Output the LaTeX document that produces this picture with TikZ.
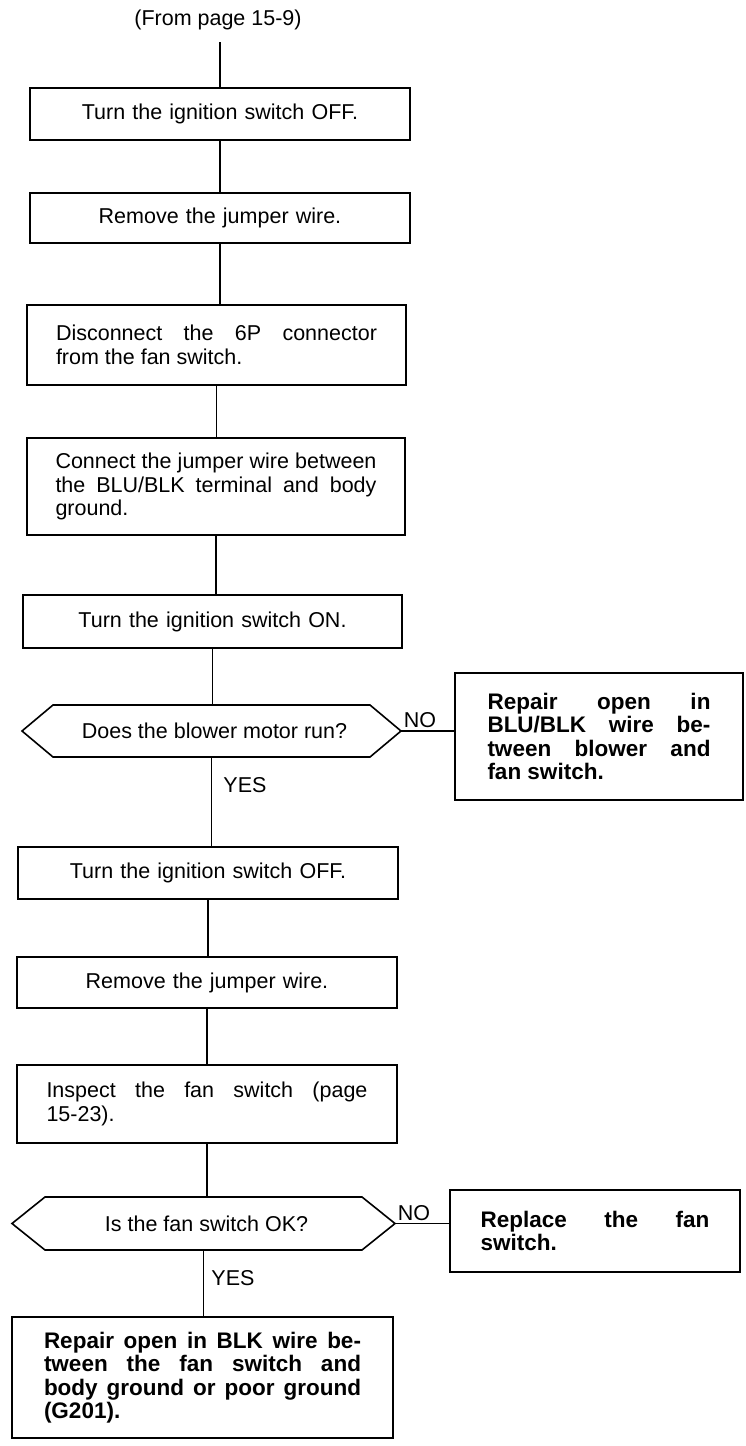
\documentclass[tikz,border=0pt]{standalone}
\usepackage{fontspec}
\setmainfont{Liberation Sans}
\begin{document}
\begin{tikzpicture}[x=1pt,y=-1pt,
  base/.style={font=\fontsize{21.5}{23.5}\selectfont, inner sep=0pt, outer sep=0pt},
  box/.style={base, draw, line width=1.6pt, text width=321pt, align=justify},
  cbox/.style={box, align=center},
  bbox/.style={box, text width=317pt, font=\fontsize{22.5}{23.5}\selectfont\bfseries},
  frame/.style={line width=1.6pt, line join=miter},
  conn/.style={line width=1.4pt},
  lbl/.style={base}
]
\useasboundingbox (0,0) rectangle (745,1446);
\hyphenpenalty=10000 \exhyphenpenalty=10000

\node[lbl] (from) at (218,20) {(From page 15-9)};
\coordinate (top) at (220,42);

\node[cbox, minimum width=380pt, minimum height=52pt] (b1) at (220,114) {Turn the ignition switch OFF.};
\node[cbox, minimum width=380pt, minimum height=50pt] (b2) at (220,218) {Remove the jumper wire.};
\node[box, minimum width=379pt, minimum height=80pt] (b3) at (216.5,345) {Disconnect the 6P connector\linebreak from the fan switch.};
\node[box, minimum width=378pt, minimum height=97pt] (b4) at (216,486.5) {Connect the jumper wire between\linebreak the BLU/BLK terminal and body\linebreak ground.};
\node[cbox, minimum width=379pt, minimum height=53pt] (b5) at (212.5,621.5) {Turn the ignition switch ON.};

\node[base, minimum width=379pt, minimum height=52pt] (h1) at (211.5,731) {\hspace*{6pt}Does the blower motor run?};
\draw[frame] (h1.west) -- ([xshift=31pt]h1.north west) -- ([xshift=-31pt]h1.north east) -- (h1.east) -- ([xshift=-31pt]h1.south east) -- ([xshift=31pt]h1.south west) -- cycle;

\node[bbox, text width=223pt, minimum width=288pt, minimum height=127pt] (r1) at (599,736.5) {Repair open in\linebreak BLU/BLK wire be-\linebreak tween blower and\linebreak fan switch.};

\node[cbox, minimum width=380pt, minimum height=52pt] (b6) at (208,873) {Turn the ignition switch OFF.};
\node[cbox, minimum width=380pt, minimum height=51pt] (b7) at (207,982.5) {Remove the jumper wire.};
\node[box, minimum width=380pt, minimum height=78pt] (b8) at (207,1104) {Inspect the fan switch (page\linebreak 15-23).};

\node[base, minimum width=383pt, minimum height=53pt] (h2) at (203.5,1223.5) {\hspace*{6pt}Is the fan switch OK?};
\draw[frame] (h2.west) -- ([xshift=33pt]h2.north west) -- ([xshift=-33pt]h2.north east) -- (h2.east) -- ([xshift=-33pt]h2.south east) -- ([xshift=33pt]h2.south west) -- cycle;

\node[bbox, text width=229pt, minimum width=290pt, minimum height=82pt] (r2) at (595,1231) {Replace the fan\linebreak switch.};

\node[bbox, minimum width=381pt, minimum height=121pt] (b9) at (202.5,1377.5) {Repair open in BLK wire be-\linebreak tween the fan switch and\linebreak body ground or poor ground\linebreak (G201).};

\node[lbl] (no1) at (420,720) {NO};
\node[lbl] (yes1) at (245,785) {YES};
\node[lbl] (no2) at (414,1213) {NO};
\node[lbl] (yes2) at (233,1278) {YES};

\draw[conn] (top) -- (b1.north);
\draw[conn] (b1.south) -- (b1.south |- b2.north);
\draw[conn] (b2.south) -- (b2.south |- b3.north);
\draw[conn] (b3.south) -- (b3.south |- b4.north);
\draw[conn] (b4.south) -- (b4.south |- b5.north);
\draw[conn] (b5.south) -- (b5.south |- h1.north);
\draw[conn] (h1.east) -- (h1.east -| r1.west);
\draw[conn] (h1.south) -- (h1.south |- b6.north);
\draw[conn] (b6.south) -- (b6.south |- b7.north);
\draw[conn] (b7.south) -- (b7.south |- b8.north);
\draw[conn] (b8.south) -- (b8.south |- h2.north);
\draw[conn] (h2.east) -- (h2.east -| r2.west);
\draw[conn] (h2.south) -- (h2.south |- b9.north);
\end{tikzpicture}
\end{document}
